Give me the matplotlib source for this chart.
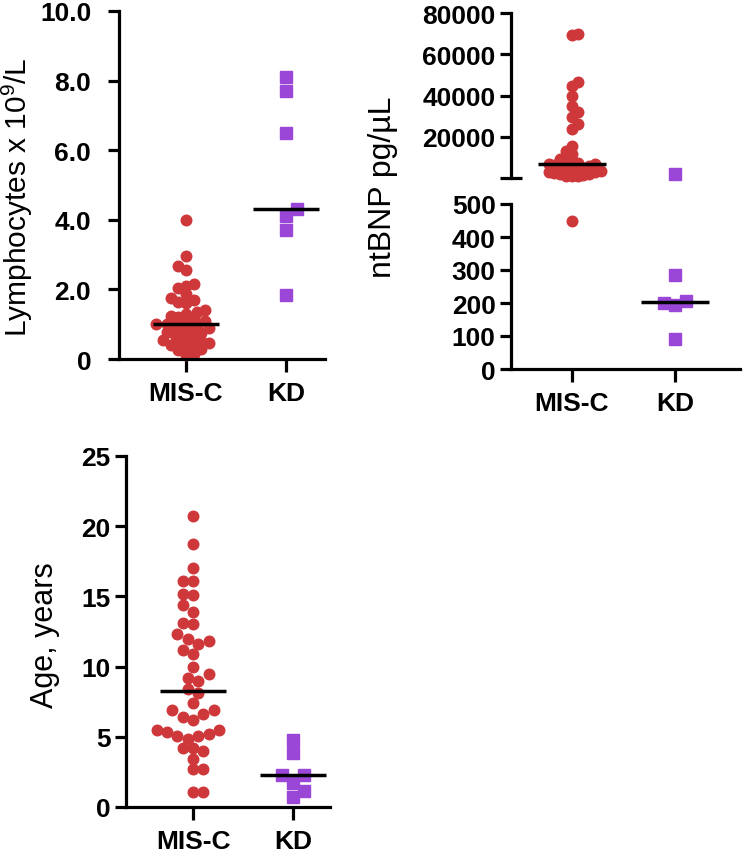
import numpy as np
import matplotlib.pyplot as plt

plt.rcParams['font.family'] = ['Liberation Sans', 'DejaVu Sans']
plt.rcParams['mathtext.default'] = 'regular'

groups = ["MIS-C", "KD"]
red = '#cf383b'
purple = '#9a46d6'

# Lymphocytes x 10^9/L
lymph_misc = [4.0, 2.95, 2.68, 2.55, 2.15, 2.1, 2.05, 1.87, 1.75, 1.7, 1.65, 1.6,
              1.4, 1.35, 1.3, 1.25, 1.2, 1.15, 1.1, 1.05, 1.0, 1.0, 0.95, 0.92,
              0.9, 0.85, 0.8, 0.78, 0.75, 0.7, 0.65, 0.6, 0.55, 0.52, 0.5, 0.45,
              0.4, 0.38, 0.35, 0.3, 0.25, 0.15, 0.12]
lymph_kd = [8.1, 7.7, 6.5, 4.3, 4.1, 3.7, 1.85]
lymph_ticks = [0, 2, 4, 6, 8, 10]
lymph_ticklabels = ["0", "2.0", "4.0", "6.0", "8.0", "10.0"]

# ntBNP pg/uL
bnp_misc = [70000, 69500, 46700, 44400, 39900, 35000, 31800, 29400, 26200, 23800,
            15700, 13200, 11600, 9200, 7600, 7200, 7000, 6800, 6600, 6400, 6000,
            5200, 5000, 4600, 4200, 3800, 3400, 3000, 2700, 2400, 2100, 1800,
            1500, 1200, 1000, 800, 450]
bnp_kd = [1900, 285, 205, 200, 195, 90]
bnp_hi_ticks = [20000, 40000, 60000, 80000]
bnp_lo_ticks = [0, 100, 200, 300, 400, 500]

# Age, years
age_misc = [20.7, 18.7, 17.0, 16.1, 16.1, 15.2, 15.1, 14.4, 13.9, 13.1, 13.0, 12.3,
            12.0, 11.8, 11.6, 11.2, 10.9, 9.95, 9.5, 9.2, 8.95, 8.4, 8.1, 7.4, 6.9,
            6.9, 6.65, 6.4, 6.2, 5.5, 5.5, 5.35, 5.2, 5.05, 5.05, 4.87, 4.2, 4.2,
            3.96, 3.44, 2.7, 2.7, 1.1, 1.1]
age_kd = [4.75, 3.87, 2.3, 2.3, 1.7, 1.14, 0.71]
age_ticks = [0, 5, 10, 15, 20, 25]

W, H = 747, 854
fig = plt.figure(figsize=(W / 100, H / 100), dpi=100)


def add_ax(l, r, t, b):
    return fig.add_axes([l / W, 1 - b / H, (r - l) / W, (b - t) / H])


def style(ax, bottom=True, ypad=3):
    for s in ['top', 'right']:
        ax.spines[s].set_visible(False)
    ax.spines['left'].set_linewidth(2.3)
    ax.spines['bottom'].set_linewidth(2.3)
    if not bottom:
        ax.spines['bottom'].set_visible(False)
    ax.tick_params(axis='both', width=2.3, length=8, labelsize=19)
    ax.tick_params(axis='y', pad=ypad)
    ax.tick_params(axis='x', length=9, pad=7)
    for lab in ax.get_xticklabels() + ax.get_yticklabels():
        lab.set_fontweight('bold')


def swarm(vals, ax, diam, gap):
    # greedy beeswarm in pixel space, returns x offsets in data units
    vals = np.asarray(vals, float)
    y0, y1 = ax.get_ylim()
    x0, x1 = ax.get_xlim()
    ppy = ax.bbox.height / (y1 - y0)
    ppx = ax.bbox.width / (x1 - x0)
    ypx = vals * ppy
    dmin = diam * gap
    step = dmin / 2
    xs = np.zeros(len(vals))
    done = []
    for n, i in enumerate(np.argsort(vals)):
        k = 0
        pick = None
        while pick is None:
            cands = [0.0] if k == 0 else ([k * step, -k * step] if n % 2 else [-k * step, k * step])
            for c in cands:
                if all((c - xj) ** 2 + (ypx[i] - yj) ** 2 >= dmin ** 2 for xj, yj in done):
                    pick = c
                    break
            k += 1
        xs[i] = pick
        done.append((pick, ypx[i]))
    return xs / ppx


def dots(ax, pos, vals, color, marker, ms, gap):
    if len(vals) == 0:
        return
    off = swarm(vals, ax, ms / 72 * 100, gap)
    ax.plot(pos + off, vals, linestyle='none', marker=marker, ms=ms, color=color,
            mec=color, clip_on=False, zorder=2)


def median_line(ax, pos, vals):
    m = np.median(vals)
    ax.plot([pos - 0.33, pos + 0.33], [m, m], color='black', lw=2.5, zorder=3,
            solid_capstyle='butt', clip_on=False)


# panel 1: lymphocytes
ax1 = add_ax(119, 325, 12, 360)
ax1.set_xlim(-0.67, 1.39)
ax1.set_ylim(0, 10)
ax1.set_yticks(lymph_ticks)
ax1.set_yticklabels(lymph_ticklabels)
ax1.set_xticks([0, 1])
ax1.set_xticklabels(groups)
dots(ax1, 0, lymph_misc, red, 'o', 7.6, 0.72)
dots(ax1, 1, lymph_kd, purple, 's', 8.0, 1.0)
median_line(ax1, 0, lymph_misc)
median_line(ax1, 1, lymph_kd)
style(ax1, ypad=12)
fig.text(17 / W, 1 - 197 / H, "Lymphocytes x 10$^{9}$/L", rotation=90, fontsize=21.5,
         ha='center', va='center')

# panel 2: ntBNP with broken axis
ax2 = add_ax(511, 740, 14, 179)
ax3 = add_ax(511, 740, 205, 370)
for a in (ax2, ax3):
    a.set_xlim(-0.59, 1.63)
ax2.set_ylim(0, 80000)
ax3.set_ylim(0, 500)
ax2.set_yticks(bnp_hi_ticks)
ax2.set_yticks([0], minor=True)
ax3.set_yticks(bnp_lo_ticks)
ax3.set_yticks([500], minor=True)
ax2.set_xticks([])
ax3.set_xticks([0, 1])
ax3.set_xticklabels(groups)

bm = np.array(bnp_misc, float)
bk = np.array(bnp_kd, float)
dots(ax2, 0, bm[bm >= 500], red, 'o', 7.6, 0.55)
dots(ax3, 0, bm[bm < 500], red, 'o', 7.6, 0.55)
dots(ax2, 1, bk[bk >= 500], purple, 's', 8.0, 1.0)
dots(ax3, 1, bk[bk < 500], purple, 's', 8.0, 1.0)
median_line(ax2 if np.median(bm) >= 500 else ax3, 0, bm)
median_line(ax2 if np.median(bk) >= 500 else ax3, 1, bk)
style(ax2, bottom=False)
style(ax3)
for a in (ax2, ax3):
    a.tick_params(axis='y', which='minor', direction='inout', length=16, width=2.3)
ax2.spines['left'].set_bounds(0, 80000)
fig.text(383 / W, 1 - 187 / H, "ntBNP pg/\u00b5L", rotation=90, fontsize=23,
         ha='center', va='center')

# panel 3: age
ax4 = add_ax(126, 330, 457, 808)
ax4.set_xlim(-0.67, 1.37)
ax4.set_ylim(0, 25)
ax4.set_yticks(age_ticks)
ax4.set_xticks([0, 1])
ax4.set_xticklabels(groups)
dots(ax4, 0, age_misc, red, 'o', 7.6, 0.98)
dots(ax4, 1, age_kd, purple, 's', 8.0, 1.0)
median_line(ax4, 0, age_misc)
median_line(ax4, 1, age_kd)
style(ax4)
fig.text(45 / W, 1 - 635 / H, "Age, years", rotation=90, fontsize=22,
         ha='center', va='center')

fig.savefig("out.png", dpi=100)
